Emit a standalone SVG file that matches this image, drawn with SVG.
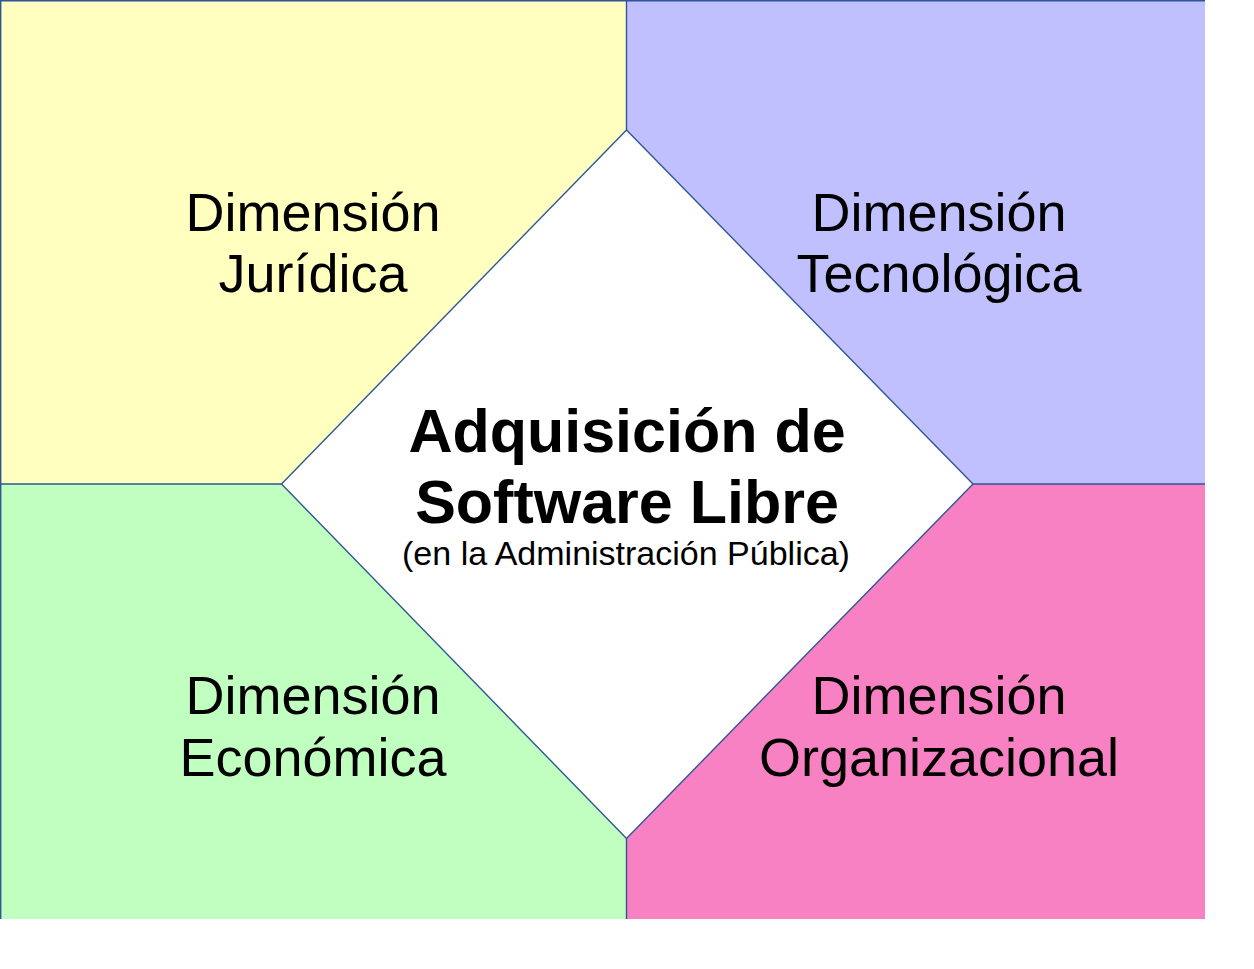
<svg xmlns="http://www.w3.org/2000/svg" width="1254" height="969" viewBox="0 0 1254 969">
<style>
.q{stroke:none}
.ln{stroke:#2f5597;stroke-width:1.4;fill:none}
.t{font-family:"Liberation Sans",Arial,sans-serif;font-size:54px;fill:#000;text-anchor:middle}
.tb{font-family:"Liberation Sans",Arial,sans-serif;font-size:61px;font-weight:bold;fill:#000;text-anchor:middle}
.ts{font-family:"Liberation Sans",Arial,sans-serif;font-size:34px;fill:#000;text-anchor:middle}
</style>
<rect width="1254" height="969" fill="#fff"/>
<g id="juridica">
<polygon class="q" fill="#ffffc0" points="0,0 626.5,0 626.5,130 281.5,484 0,484"/>
<text class="t" x="313" y="231">Dimensión</text>
<text class="t" x="313" y="292">Jurídica</text>
</g>
<g id="tecnologica">
<polygon class="q" fill="#c0c0ff" points="626.5,0 1205,0 1205,484 973,484 626.5,130"/>
<text class="t" x="939" y="231">Dimensión</text>
<text class="t" x="939" y="292">Tecnológica</text>
</g>
<g id="economica">
<polygon class="q" fill="#c0ffc0" points="0,484 281.5,484 626.5,838.5 626.5,919 0,919"/>
<text class="t" x="313" y="714">Dimensión</text>
<text class="t" x="313" y="776">Económica</text>
</g>
<g id="organizacional">
<polygon class="q" fill="#f781c2" points="973,484 1205,484 1205,919 626.5,919 626.5,838.5"/>
<text class="t" x="939" y="714">Dimensión</text>
<text class="t" x="939" y="776">Organizacional</text>
</g>
<g id="connectors">
<polyline class="ln" points="0.7,919 0.7,0.7 626.5,0.7 626.5,130"/>
<line class="ln" x1="626.5" y1="0.7" x2="1205" y2="0.7"/>
<line class="ln" x1="0" y1="484" x2="281.5" y2="484"/>
<line class="ln" x1="973" y1="484" x2="1205" y2="484"/>
<line class="ln" x1="626.5" y1="838.5" x2="626.5" y2="919"/>
</g>
<g id="center">
<polygon class="ln" style="fill:#fff" points="626.5,130 973,484 626.5,838.5 281.5,484"/>
<text class="tb" x="627" y="452">Adquisición de</text>
<text class="tb" x="627" y="523">Software Libre</text>
<text class="ts" x="626" y="565">(en la Administración Pública)</text>
</g>
</svg>
